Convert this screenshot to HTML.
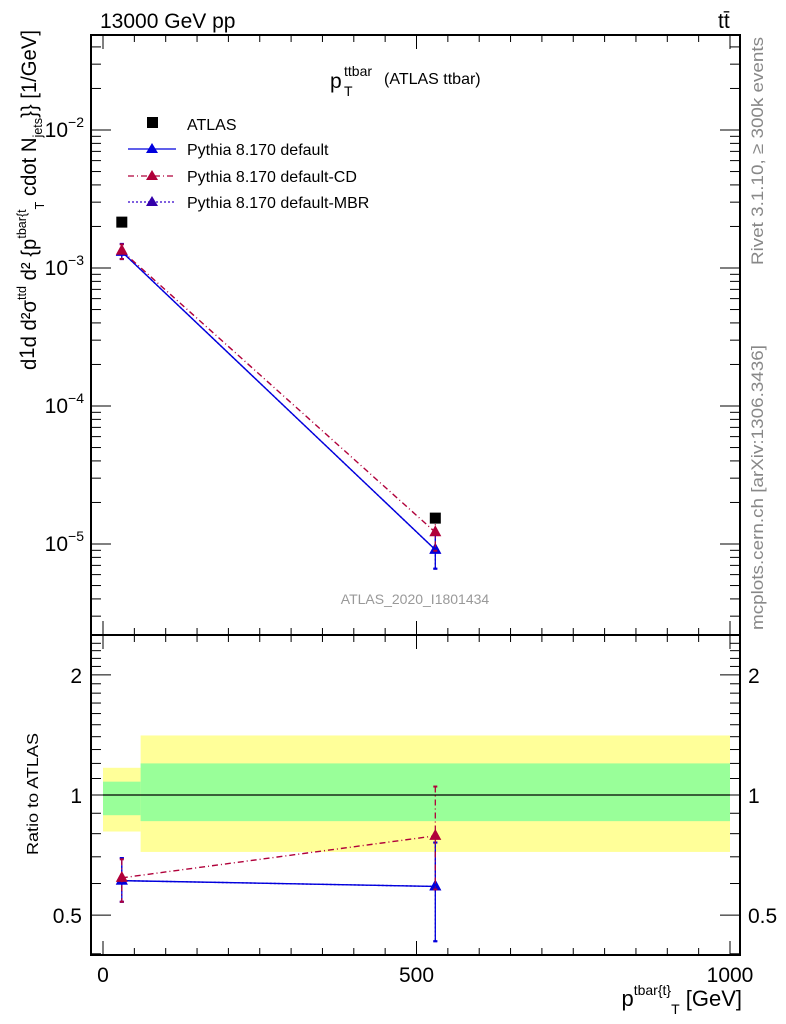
<!DOCTYPE html>
<html><head><meta charset="utf-8"><style>
body{margin:0;background:#fff;}
svg{display:block;font-family:"Liberation Sans",sans-serif;}
</style></head><body>
<svg id="chart" width="786" height="1024" viewBox="0 0 786 1024">
<g id="g-bands"></g>
<g id="g-axes"></g>
<g id="g-series"></g>
<text x="100" y="28" font-size="21">13000 GeV pp</text>
<text x="718" y="28" font-size="21">tt̄</text>
<text x="330" y="88" font-size="21">p</text>
<text x="344" y="76" font-size="14">ttbar</text>
<text x="344" y="96" font-size="14">T</text>
<text x="384" y="84" font-size="16">(ATLAS ttbar)</text>
<text x="415" y="604" font-size="14" fill="#999" text-anchor="middle">ATLAS_2020_I1801434</text>
<text transform="translate(763,265) rotate(-90)" font-size="17" fill="#888" textLength="228" lengthAdjust="spacingAndGlyphs">Rivet 3.1.10, ≥ 300k events</text>
<text transform="translate(763,630) rotate(-90)" font-size="17" fill="#888" textLength="285" lengthAdjust="spacingAndGlyphs">mcplots.cern.ch [arXiv:1306.3436]</text>
<text transform="translate(36,370) rotate(-90)" font-size="21" textLength="340" lengthAdjust="spacingAndGlyphs">d<tspan dy="-2">1</tspan><tspan dy="2">d</tspan> d²σ<tspan font-size="13" dy="-10">ttd</tspan><tspan dy="10"> d² {p</tspan><tspan font-size="13" dy="-10">tbar{t</tspan><tspan font-size="13" dy="18">T</tspan><tspan dy="-8">  cdot N</tspan><tspan font-size="13" dy="6">jets</tspan><tspan dy="-6">}} [1/GeV]</tspan></text>
<text transform="translate(38,855) rotate(-90)" font-size="16" textLength="122" lengthAdjust="spacingAndGlyphs">Ratio to ATLAS</text>
<text x="742" y="1006" font-size="22" text-anchor="end">p<tspan font-size="14" dy="-11">tbar{t}</tspan><tspan font-size="14" dy="19">T</tspan><tspan dy="-8"> [GeV]</tspan></text>
<g>
<rect x="147" y="117" width="11" height="11" fill="#000"/>
<text x="187" y="130" font-size="16">ATLAS</text>
<line x1="128" y1="149" x2="176" y2="149" stroke="#0000dd" stroke-width="1.3"/>
<polygon points="152,143 146,153 158,153" fill="#0000dd"/>
<text x="187" y="155" font-size="16">Pythia 8.170 default</text>
<line x1="128" y1="176" x2="176" y2="176" stroke="#b0003a" stroke-width="1.3" stroke-dasharray="6,3,1,3"/>
<polygon points="152,170 146,180 158,180" fill="#b0003a"/>
<text x="187" y="182" font-size="16">Pythia 8.170 default-CD</text>
<line x1="128" y1="202" x2="176" y2="202" stroke="#3300cc" stroke-width="1.3" stroke-dasharray="2,2"/>
<polygon points="152,196 146,206 158,206" fill="#3300aa"/>
<text x="187" y="208" font-size="16">Pythia 8.170 default-MBR</text>
</g>
</svg>
<script>
const binEdges=[0,60,1000];
const binCenters=[30,530];
const atlasValues=[2.15e-3,1.54e-5];
const defaultRatio=[0.61,0.59];
const defaultRatioLo=[0.54,0.43];
const defaultRatioHi=[0.695,0.76];
const cdRatio=[0.62,0.79];
const cdRatioLo=[0.54,0.58];
const cdRatioHi=[0.69,1.05];
const mbrRatio=[0.61,0.59];
const statBandLo=[0.89,0.86];
const statBandHi=[1.08,1.20];
const totBandLo=[0.81,0.72];
const totBandHi=[1.17,1.41];
const xTicks=[0,500,1000];
const mainTicks=[-2,-3,-4,-5];
const ratioTicks=[0.5,1,2];

const NS="http://www.w3.org/2000/svg";
const L=91,R=740,MT=35,MB=635,RB=955;
const sx=v=>103+v*0.627;
const sy=v=>268-138*(Math.log10(v)+3);
const ry=v=>795-399*Math.log10(v);
function mk(tag,attrs,parent){const e=document.createElementNS(NS,tag);for(const k in attrs)e.setAttribute(k,attrs[k]);parent.appendChild(e);return e;}
const gb=document.getElementById('g-bands'),ga=document.getElementById('g-axes'),gs=document.getElementById('g-series');

for(let i=0;i<binCenters.length;i++){
  const x0=sx(binEdges[i]),x1=sx(binEdges[i+1]);
  let r=mk('rect',{x:x0,y:ry(totBandHi[i]),width:x1-x0,height:ry(totBandLo[i])-ry(totBandHi[i]),fill:'#ffff99'},gb);
  
  
  r=mk('rect',{x:x0,y:ry(statBandHi[i]),width:x1-x0,height:ry(statBandLo[i])-ry(statBandHi[i]),fill:'#99ff99'},gb);
  
  
}
mk('rect',{x:L,y:MT,width:R-L,height:MB-MT,fill:'none',stroke:'#000','stroke-width':2},ga);
mk('rect',{x:L,y:MB,width:R-L,height:RB-MB,fill:'none',stroke:'#000','stroke-width':2},ga);
mk('line',{x1:sx(0),x2:sx(1000),y1:ry(1),y2:ry(1),stroke:'#000','stroke-width':1.2},ga);
for(let v=0;v<=1000;v+=50){
  const len=v%500===0?14:7;
  [MT,MB].forEach(y=>{mk('line',{x1:sx(v),x2:sx(v),y1:y,y2:y+len,stroke:'#000'},ga);});
  [MB,RB].forEach(y=>{mk('line',{x1:sx(v),x2:sx(v),y1:y,y2:y-len,stroke:'#000'},ga);});
}
xTicks.forEach(v=>{const t=mk('text',{x:sx(v),y:982,'font-size':21,'text-anchor':'middle'},ga);t.textContent=v;

});
for(let d=-6;d<=-1;d++){for(let m=1;m<10;m++){const y=sy(m*Math.pow(10,d));if(y<MT||y>MB)continue;const len=m===1?20:10;
 mk('line',{x1:L,x2:L+len,y1:y,y2:y,stroke:'#000'},ga);mk('line',{x1:R,x2:R-len,y1:y,y2:y,stroke:'#000'},ga);}}
mainTicks.forEach(d=>{const t=mk('text',{x:84,y:sy(Math.pow(10,d))+7,'font-size':21,'text-anchor':'end'},ga);
t.innerHTML='10<tspan font-size="14" dy="-10">−'+(-d)+'</tspan>';

});
for(let v=0.4;v<=2.5;v+=0.1){const y=ry(v);if(y<MB||y>RB)continue;const maj=Math.abs(v-0.5)<1e-6||Math.abs(v-1)<1e-6||Math.abs(v-2)<1e-6;const len=maj?20:10;
 mk('line',{x1:L,x2:L+len,y1:y,y2:y,stroke:'#000'},ga);mk('line',{x1:R,x2:R-len,y1:y,y2:y,stroke:'#000'},ga);}
ratioTicks.forEach(v=>{[[82,'end'],[748,'start']].forEach(([x,a])=>{const t=mk('text',{x:x,y:ry(v)+8,'font-size':21,'text-anchor':a},ga);t.textContent=v;

});});

function tri(x,y,c,p,name){const e=mk('polygon',{points:`${x},${y-7} ${x-6},${y+4} ${x+6},${y+4}`,fill:c},p);

}
function err(x,y1,y2,c,dash){mk('line',{x1:x,x2:x,y1:y1,y2:y2,stroke:c,'stroke-width':1.3,'stroke-dasharray':dash||''},gs);
 mk('line',{x1:x-2,x2:x+2,y1:y1,y2:y1,stroke:c,'stroke-width':2},gs);mk('line',{x1:x-2,x2:x+2,y1:y2,y2:y2,stroke:c,'stroke-width':2},gs);}
const series=[
 {v:mbrRatio,lo:defaultRatioLo,hi:defaultRatioHi,c:'#3300cc',dash:'2,2',name:'mbr'},
 {v:defaultRatio,lo:defaultRatioLo,hi:defaultRatioHi,c:'#0000dd',dash:'',name:'default'},
 {v:cdRatio,lo:cdRatioLo,hi:cdRatioHi,c:'#b0003a',dash:'6,3,1,3',name:'cd'}];
series.forEach(s=>{
  const mainPts=binCenters.map((x,i)=>sx(x)+','+sy(atlasValues[i]*s.v[i])).join(' ');
  const ratPts=binCenters.map((x,i)=>sx(x)+','+ry(s.v[i])).join(' ');
  let p=mk('polyline',{points:mainPts,fill:'none',stroke:s.c,'stroke-width':1.4,'stroke-dasharray':s.dash},gs);
  
  
  p=mk('polyline',{points:ratPts,fill:'none',stroke:s.c,'stroke-width':1.4,'stroke-dasharray':s.dash},gs);
  
  
  binCenters.forEach((x,i)=>{
    err(sx(x),ry(s.hi[i]),ry(s.lo[i]),s.c,s.dash);
    err(sx(x),sy(atlasValues[i]*s.hi[i]),sy(atlasValues[i]*s.lo[i]),s.c,s.dash);
    tri(sx(x),sy(atlasValues[i]*s.v[i]),s.c,gs,'point-'+s.name);
    tri(sx(x),ry(s.v[i]),s.c,gs,'ratio-point-'+s.name);
  });
});
binCenters.forEach((x,i)=>{const r=mk('rect',{x:sx(x)-5.5,y:sy(atlasValues[i])-5.5,width:11,height:11,fill:'#000'},gs);

});
</script>
</body></html>
